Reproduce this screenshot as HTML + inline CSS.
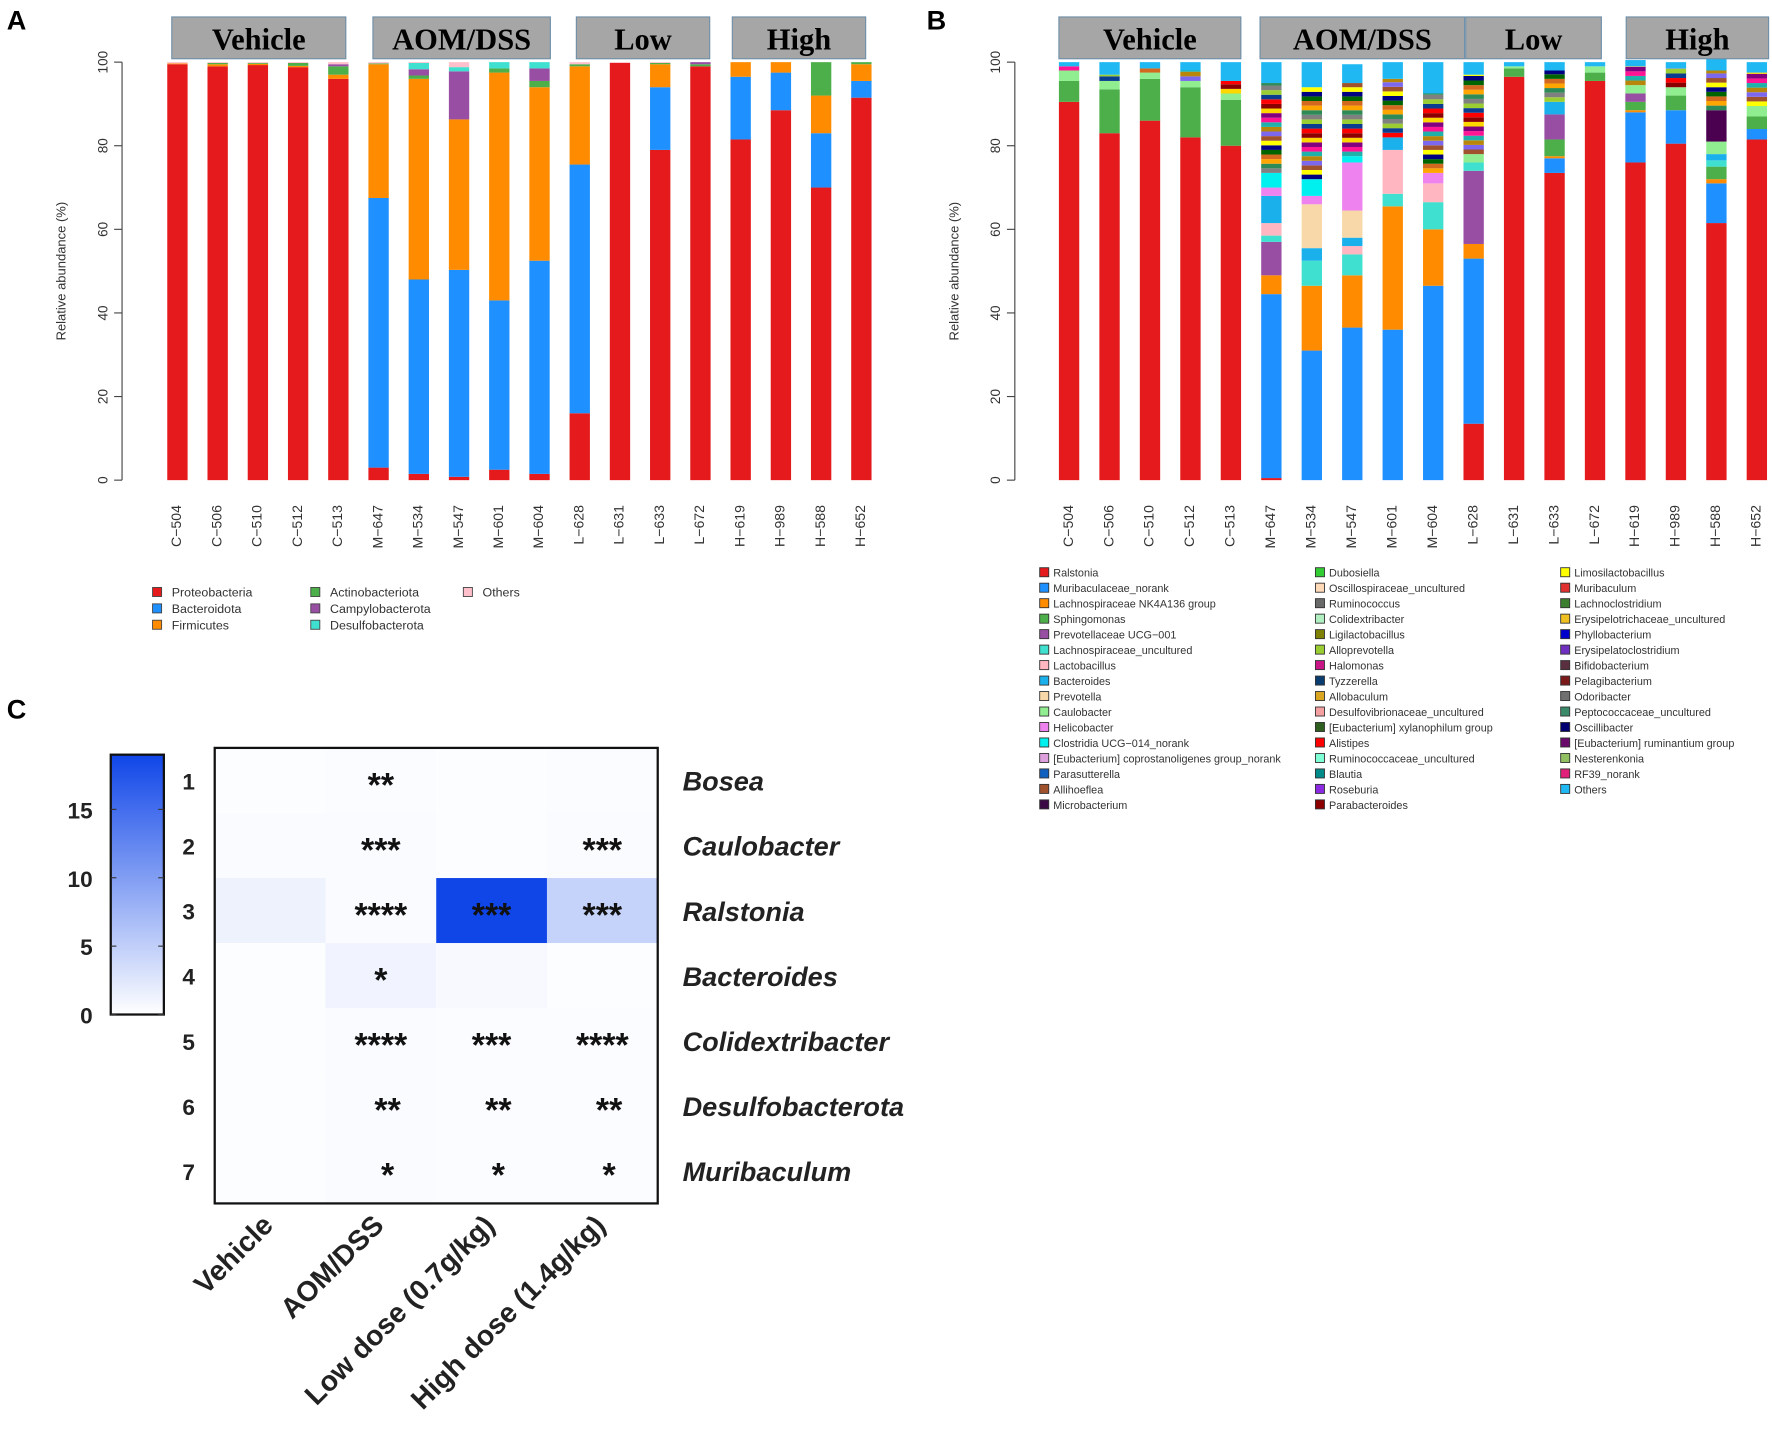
<!DOCTYPE html>
<html><head><meta charset="utf-8"><style>
html,body{margin:0;padding:0;background:#fff;}
svg{display:block;}
</style></head><body>
<svg id="fig" xmlns="http://www.w3.org/2000/svg" width="1772" height="1454" viewBox="0 0 1568 1287" preserveAspectRatio="none" font-family="Liberation Sans, sans-serif"></svg>
<script>
// ---------- Panel A data ----------
const samples = ["C-504","C-506","C-510","C-512","C-513","M-647","M-534","M-547","M-601","M-604","L-628","L-631","L-633","L-672","H-619","H-989","H-588","H-652"];
const phylaNames = ["Proteobacteria","Bacteroidota","Firmicutes","Actinobacteriota","Campylobacterota","Desulfobacterota","Others"];
const phylaColors = ["#e41a1c","#1e90ff","#ff8c00","#4daf4a","#984ea3","#40e0d0","#ffc0cb"];
const proteo  = [99.5,99,99.3,98.8,96,3,1.5,0.8,2.5,1.5,16,99.8,79,99,81.5,88.5,70,91.5];
const bactero = [0,0,0,0,0,64.5,46.5,49.5,40.5,51,59.5,0,15,0,15,9,13,4];
const firmic  = [0.2,0.5,0.3,0.3,1,32,48,36,54.5,41.5,23.5,0,5.5,0,3.5,2.5,9,4];
const actino  = [0,0.3,0.2,0.7,2,0.2,0.8,0,1,1.5,0.5,0,0.3,0.5,0,0,8,0.5];
const campylo = [0,0,0,0,0.5,0,1.5,11.5,0,3,0,0,0,0.5,0,0,0,0];
const desulfo = [0,0,0,0,0,0,1.5,1,1.5,1.5,0,0,0,0,0,0,0,0];
const othersA = [0.3,0.2,0.2,0.2,0.5,0.3,0.2,1.2,0,0,0.5,0.2,0.2,0,0,0,0,0];
const seriesA = [proteo,bactero,firmic,actino,campylo,desulfo,othersA];

// ---------- Panel B data ----------
const genusCats = ["Ralstonia","Muribaculaceae_norank","Lachnospiraceae NK4A136 group","Sphingomonas","Prevotellaceae UCG-001","Lachnospiraceae_uncultured","Lactobacillus","Bacteroides","Prevotella","Caulobacter","Helicobacter","Clostridia UCG-014_norank","[Eubacterium] ruminantium group","misc","Others"];
const genusColors = ["#e41a1c","#1e90ff","#ff8c00","#4daf4a","#984ea3","#40e0d0","#ffb6c1","#1ab0ec","#f8d8a8","#90ee90","#ee82ee","#00f0f0","#4b0050","misc","#1fb8f2"];
const gRal  = [90.5,83,86,82,80,0.5,0,0,0,0,13.5,96.5,73.5,95.5,76,80.5,61.5,81.5];
const gMur  = [0,0,0,0,0,44,31,36.5,36,46.5,39.5,0,3.5,0,12,8,9.5,2.5];
const gNK   = [0,0,0,0,0,4.5,15.5,12.5,29.5,13.5,3.5,0,0.5,0,0.5,0,1,0];
const gSph  = [5,10.5,10,12,11,0,0,0,0,0,0,2,4,2,2,3.5,3,3];
const gPrev = [0,0,0,0,0,8,0,0,0,0,17.5,0,6,0,2,0,0,0];
const gLU   = [0,0,0,0,0,1.5,6,5,3,6.5,2,0,0,0,0,0,1.5,0];
const gLac  = [0,0,0,0,0,3,0,2,10.5,4.5,0,0,0,0,0,0,0,0];
const gBac  = [0,0,0,0,0,6.5,3,2,3,0,0,0,3,0,0,0,1.5,0];
const gPvt  = [0,0,0,0,0,0,10.5,6.5,0,0,0,0,0,0,0,0,0,0];
const gCaul = [2.5,2,1.5,1.5,1.5,0,0,0,0,0,2,0.5,0,1.5,2,2,3,2.5];
const gHel  = [0,0,0,0,0,2,2,11.5,0,2.5,0,0,0,0,0,0,0,0];
const gClo  = [0,0,0,0,0,3.5,4,1.5,0,0,0,0,0,0,0,0,0,0];
const gEub  = [0,0,0,0,0,0,0,0,0,0,0,0,0,0,0,0,7.5,0];
const gMisc = [1,1.5,1,2.5,3,21.5,22,17.5,14,19,19,0,7.5,0,4.5,4.5,9.5,8];
const gOth  = [1,3,1.5,2,4.5,5,6,4.5,4,7.5,3,1,2,1,1.5,1.5,3,2.5];
const seriesB = [gRal,gMur,gNK,gSph,gPrev,gLU,gLac,gBac,gPvt,gCaul,gHel,gClo,gEub,gMisc,gOth];
const miscColors = ["#ff1493","#800080","#ffd700","#8b0000","#ff0000","#0a3d8f","#9acd32","#808080","#2e8b57","#ffa500","#d2691e","#006400","#000080","#ffff00","#a0522d","#7b68ee","#b8860b","#20b2aa"];

const legendB = [
["Ralstonia","#e41a1c"],["Muribaculaceae_norank","#1e90ff"],["Lachnospiraceae NK4A136 group","#ff8c00"],["Sphingomonas","#4daf4a"],["Prevotellaceae UCG\u2212001","#984ea3"],["Lachnospiraceae_uncultured","#40e0d0"],["Lactobacillus","#ffb6c1"],["Bacteroides","#1ab0ec"],["Prevotella","#f8d8a8"],["Caulobacter","#90ee90"],["Helicobacter","#ee82ee"],["Clostridia UCG\u2212014_norank","#00f0f0"],["[Eubacterium] coprostanoligenes group_norank","#dda0dd"],["Parasutterella","#1060c0"],["Allihoeflea","#a0522d"],["Microbacterium","#3b0a45"],
["Dubosiella","#32cd32"],["Oscillospiraceae_uncultured","#ffdab9"],["Ruminococcus","#696969"],["Colidextribacter","#b0f0c0"],["Ligilactobacillus","#808000"],["Alloprevotella","#9acd32"],["Halomonas","#c71585"],["Tyzzerella","#0a3d6f"],["Allobaculum","#daa520"],["Desulfovibrionaceae_uncultured","#f4a0a0"],["[Eubacterium] xylanophilum group","#2f5f1f"],["Alistipes","#ff0000"],["Ruminococcaceae_uncultured","#7fffd4"],["Blautia","#008b8b"],["Roseburia","#8a2be2"],["Parabacteroides","#8b0000"],
["Limosilactobacillus","#ffff00"],["Muribaculum","#e03030"],["Lachnoclostridium","#3c7f2f"],["Erysipelotrichaceae_uncultured","#f0c020"],["Phyllobacterium","#0000cd"],["Erysipelatoclostridium","#7030c0"],["Bifidobacterium","#5a3040"],["Pelagibacterium","#7a1a1a"],["Odoribacter","#707070"],["Peptococcaceae_uncultured","#3a8a6a"],["Oscillibacter","#000070"],["[Eubacterium] ruminantium group","#6a0a6a"],["Nesterenkonia","#90c060"],["RF39_norank","#e0207a"],["Others","#1fb8f2"]
];

// ---------- Panel C data ----------
const heatRows = ["Bosea","Caulobacter","Ralstonia","Bacteroides","Colidextribacter","Desulfobacterota","Muribaculum"];
const heatCols = ["Vehicle","AOM/DSS","Low dose (0.7g/kg)","High dose (1.4g/kg)"];
const heatVehicle = [0.1,0.3,1.2,0.1,0.1,0.1,0.1];
const heatAOM     = [0.2,0.3,0.3,1.0,0.3,0.3,0.3];
const heatLow     = [0.1,0.1,19,0.5,0.2,0.2,0.2];
const heatHigh    = [0.2,0.3,4.5,0.1,0.2,0.2,0.2];
const heatSig = [["","**","",""],["","***","","***"],["","****","***","***"],["","*","",""],["","****","***","****"],["","**","**","**"],["","*","*","*"]];
const cbTicks = [0,5,10,15];

// ---------- helpers ----------
const NS="http://www.w3.org/2000/svg";
const svg=document.getElementById('fig');
function mk(tag,attrs,parent,text){const e=document.createElementNS(NS,tag);for(const k in attrs)e.setAttribute(k,attrs[k]);if(text!==undefined)e.textContent=text;(parent||svg).appendChild(e);return e;}

function panelLetter(t,x,y){const e=mk('text',{x:x,y:y,'font-size':24,'font-weight':'bold',fill:'#000'},svg,t);

}
panelLetter('A',6,26);panelLetter('B',820,26);panelLetter('C',6,636);

function strip(g,label,x0,x1,name){
 const r=mk('rect',{x:x0,y:15,width:x1-x0,height:37,fill:'#a6a6a6',stroke:'#6f8fa8','stroke-width':1},g);
 
 
 const t=mk('text',{x:(x0+x1)/2,y:44,'text-anchor':'middle','font-family':'Liberation Serif, serif','font-size':27,'font-weight':'bold',fill:'#000'},g,label);
 
 
}

function stackedPanel(opts){
 const g=mk('g',{});
 
 
 const y0=425,y1=55;
 const ys=v=>y0-(v/100)*(y0-y1);
 const xs=i=>opts.x0+i*opts.step;
 const ax=mk('line',{x1:opts.axisX,y1:ys(0),x2:opts.axisX,y2:ys(100),stroke:'#444','stroke-width':1},g);
 
 
 [0,20,40,60,80,100].forEach(v=>{
  mk('line',{x1:opts.axisX-7,y1:ys(v),x2:opts.axisX,y2:ys(v),stroke:'#444'},g);
  const t=mk('text',{x:opts.axisX-13,y:ys(v),'font-size':12,fill:'#333','text-anchor':'middle',transform:`rotate(-90 ${opts.axisX-13} ${ys(v)})`},g,String(v));
  
  
 });
 const yt=mk('text',{x:opts.axisX-50,y:240,'font-size':11.5,fill:'#333','text-anchor':'middle',transform:`rotate(-90 ${opts.axisX-50} 240)`},g,'Relative abundance (%)');
 
 
 samples.forEach((s,i)=>{
  let acc=0;const cx=xs(i);
  opts.series.forEach((arr,k)=>{
   const v=arr[i];if(v<=0)return;
   if(opts.colors[k]==='misc'){
    let rem=v,j=0;
    while(rem>0.01){const piece=Math.min(1.1,rem);
     const r=mk('rect',{x:cx-opts.bw/2,y:ys(acc+piece),width:opts.bw,height:ys(acc)-ys(acc+piece),fill:miscColors[(j+i*5)%miscColors.length]},g);
     
     
     acc+=piece;rem-=piece;j++;}
   } else {
    const r=mk('rect',{x:cx-opts.bw/2,y:ys(acc+v),width:opts.bw,height:ys(acc)-ys(acc+v),fill:opts.colors[k]},g);
    
    
    acc+=v;
   }
  });
  const t=mk('text',{x:cx,y:447,'font-size':12.5,fill:'#333','text-anchor':'end','dominant-baseline':'middle',transform:`rotate(-90 ${cx} 447)`},g,s.replace('-','\u2212'));
  
  
 });
 opts.strips.forEach(st=>strip(g,st[0],st[1],st[2],opts.name+'-'+st[0].toLowerCase().replace('/','-')));
}

stackedPanel({name:'panel-a-phylum-chart',x0:157,step:35.6,bw:18,axisX:108,series:seriesA,colors:phylaColors,catNames:phylaNames,
 strips:[["Vehicle",152,306],["AOM/DSS",330,487],["Low",510,628],["High",648,766]]});
stackedPanel({name:'panel-b-genus-chart',x0:946,step:35.8,bw:18,axisX:898,series:seriesB,colors:genusColors,catNames:genusCats,
 strips:[["Vehicle",937,1098],["AOM/DSS",1115,1296],["Low",1297,1417],["High",1439,1565]]});

// Legend A
(function(){
 const g=mk('g',{});
 
 
 const cols=[135,275,410];
 phylaNames.forEach((n,i)=>{
  const c=Math.floor(i/3),r=i%3;const x=cols[c],y=525+r*14.5;
  mk('rect',{x:x,y:y-5,width:8,height:8,fill:phylaColors[i],stroke:'#444','stroke-width':0.8},g);
  const t=mk('text',{x:x+17,y:y+3,'font-size':11,fill:'#333'},g,n);
  
  
 });
})();
// Legend B
(function(){
 const g=mk('g',{});
 
 
 const cols=[920,1164,1381];
 legendB.forEach((e,i)=>{
  const c=Math.floor(i/16),r=i%16;const x=cols[c],y=507+r*13.7;
  mk('rect',{x:x,y:y-4.5,width:8,height:8,fill:e[1],stroke:'#333','stroke-width':0.8},g);
  const t=mk('text',{x:x+12,y:y+3.5,'font-size':9.6,fill:'#333'},g,e[0]);
  
  
 });
})();

// Panel C heatmap
(function(){
 const g=mk('g',{});
 
 
 const hx0=190,hy0=662,cw=98,rh=57.6,vmax=19;
 const colsData=[heatVehicle,heatAOM,heatLow,heatHigh];
 const col=v=>{const t=Math.min(1,v/vmax);const r=Math.round(255+(16-255)*t),gg=Math.round(255+(70-255)*t),b=Math.round(255+(232-255)*t);return `rgb(${r},${gg},${b})`;};
 heatRows.forEach((rn,ri)=>{
  colsData.forEach((arr,ci)=>{
   const rc=mk('rect',{x:hx0+ci*cw,y:hy0+ri*rh,width:cw,height:rh,fill:col(arr[ri]+0.15)},g);
   
   
   const s=heatSig[ri][ci];
   if(s){const off=(ri>=5)?6:0;
    const t=mk('text',{x:hx0+ci*cw+cw/2+off,y:hy0+ri*rh+rh/2+14,'text-anchor':'middle','font-size':30,'font-weight':'bold',fill:'#111'},g,s);
    
    }
  });
  const n=mk('text',{x:167,y:hy0+ri*rh+rh/2+8,'text-anchor':'middle','font-size':20,'font-weight':'bold',fill:'#222'},g,String(ri+1));
  
  
  const l=mk('text',{x:604,y:hy0+ri*rh+rh/2+9,'font-size':24,'font-weight':'bold','font-style':'italic',fill:'#222'},g,rn);
  
  
 });
 const box=mk('rect',{x:hx0,y:hy0,width:cw*4,height:rh*7,fill:'none',stroke:'#111','stroke-width':2},g);
 
 
 heatCols.forEach((cn,ci)=>{
  const x=hx0+ci*cw+cw/2+4,y=1086;
  const t=mk('text',{x:x,y:y,'text-anchor':'end','font-size':25,'font-weight':'bold',fill:'#222',transform:`rotate(-45 ${x} ${y})`},g,cn);
  
  
 });
 const defs=mk('defs',{},g);
 const lg=mk('linearGradient',{id:'cbg',x1:0,y1:1,x2:0,y2:0},defs);
 mk('stop',{offset:'0','stop-color':'#ffffff'},lg);mk('stop',{offset:'1','stop-color':'#1046e8'},lg);
 const cbY0=898,cbY1=668,cbMax=19;
 const cy=v=>cbY0-(v/cbMax)*(cbY0-cbY1);
 const cb=mk('rect',{x:98,y:cbY1,width:47,height:cbY0-cbY1,fill:'url(#cbg)',stroke:'#111','stroke-width':2},g);
 
 
 cbTicks.forEach(v=>{
  mk('line',{x1:98,y1:cy(v),x2:103,y2:cy(v),stroke:'#333'},g);
  mk('line',{x1:140,y1:cy(v),x2:145,y2:cy(v),stroke:'#333'},g);
  const t=mk('text',{x:82,y:cy(v)+8,'text-anchor':'end','font-size':20,'font-weight':'bold',fill:'#222'},g,String(v));
  
  
 });
})();
</script>
</body></html>
